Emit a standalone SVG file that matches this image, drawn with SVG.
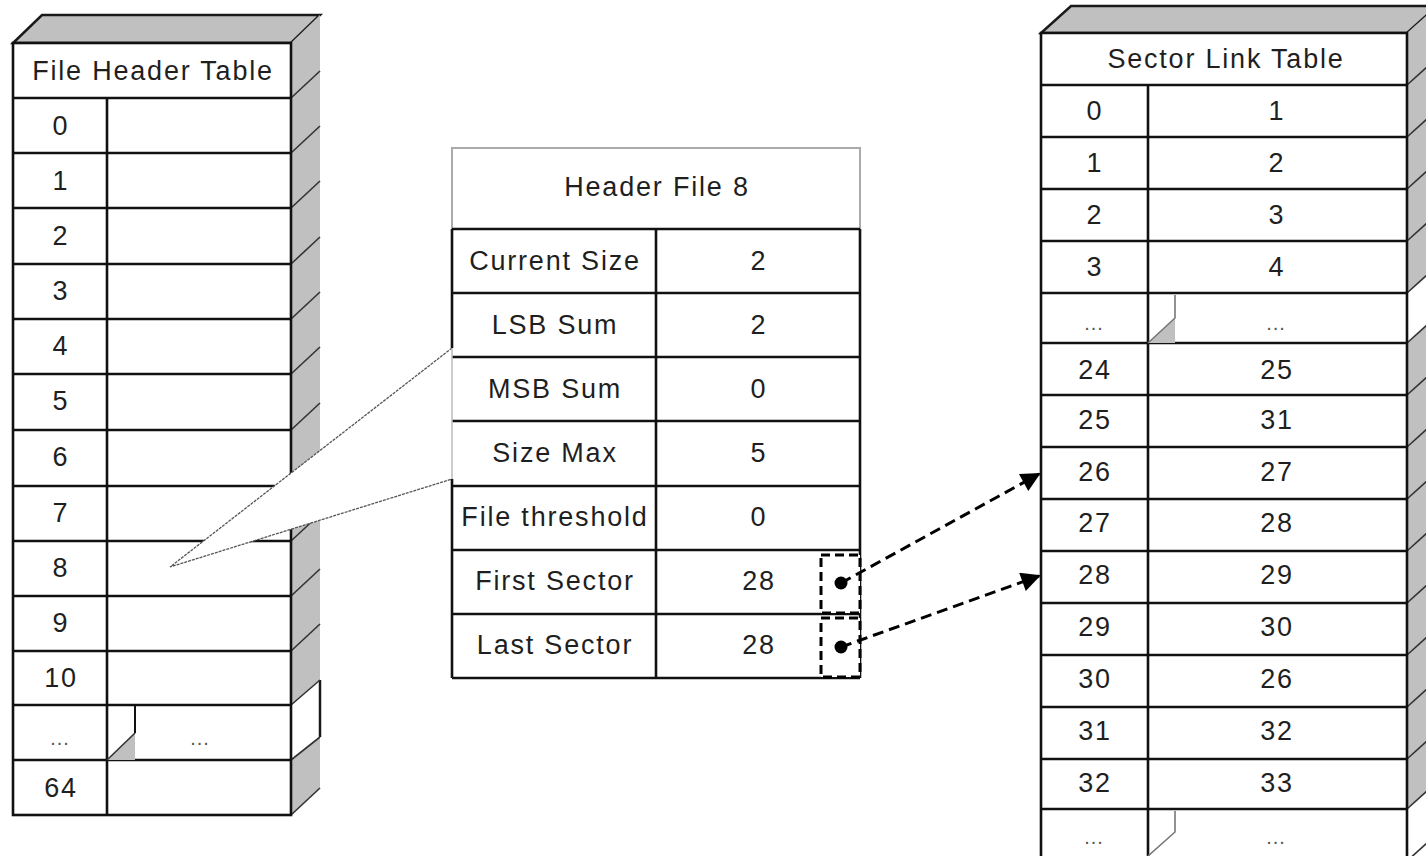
<svg xmlns="http://www.w3.org/2000/svg" width="1426" height="856" viewBox="0 0 1426 856">
  <defs>
    <marker id="arrowhead" viewBox="0 0 10 10" refX="9" refY="5" markerWidth="8" markerHeight="6.5" markerUnits="strokeWidth" orient="auto">
      <path d="M0,0 L10,5 L0,10 z" fill="#000"/>
    </marker>
    <style>
      .face { fill: #c0c0c0; stroke: none; }
      .edge { stroke: #1a1a1a; stroke-width: 2.5; fill: none; }
      .grid { stroke: #111; stroke-width: 2.6; fill: none; }
      .diag { stroke: #333; stroke-width: 1.6; fill: none; }
      .cell { fill: #fff; }
      .txt { font-family: "Liberation Sans", Arial, sans-serif; font-size: 27px; letter-spacing: 1.8px; fill: #1f1f1f; text-anchor: middle; dominant-baseline: central; }
      .dots { font-family: "Liberation Sans", Arial, sans-serif; font-size: 20px; letter-spacing: 1px; fill: #555; text-anchor: middle; }
      .brk { stroke: #777; stroke-width: 1.6; fill: none; }
      .link { stroke: #000; stroke-width: 3; stroke-dasharray: 11 6; fill: none; }
      .ptr { stroke: #000; stroke-width: 3; stroke-dasharray: 9 5; fill: none; }
    </style>
  </defs>
  <rect width="1426" height="856" fill="#fff"/>

  <!-- File Header Table (3D block on the left) -->
  <g id="file-header-table">
    <polygon class="face" points="13,43 291,43 320,15 42,15"/>
    <polygon class="edge" points="13,43 291,43 320,15 42,15"/>
    <polygon class="face" points="291,43 320,15 320,788 291,815"/>
    <!-- break in side face -->
    <polygon fill="#fff" points="291,705 320,680 320,737 291,760"/>
    <line class="edge" x1="320" y1="680" x2="320" y2="737"/>
    <line class="diag" x1="320" y1="737" x2="291" y2="760"/>
    <g class="diag">
      <line x1="291" y1="98" x2="320" y2="71"/>
      <line x1="291" y1="153" x2="320" y2="126"/>
      <line x1="291" y1="208" x2="320" y2="181"/>
      <line x1="291" y1="264" x2="320" y2="237"/>
      <line x1="291" y1="319" x2="320" y2="292"/>
      <line x1="291" y1="374" x2="320" y2="347"/>
      <line x1="291" y1="430" x2="320" y2="403"/>
      <line x1="291" y1="486" x2="320" y2="459"/>
      <line x1="291" y1="541" x2="320" y2="514"/>
      <line x1="291" y1="596" x2="320" y2="569"/>
      <line x1="291" y1="651" x2="320" y2="624"/>
      <line x1="291" y1="705" x2="320" y2="680"/>
      <line x1="291" y1="815" x2="320" y2="788"/>
    </g>
    <rect class="cell" x="13" y="43" width="278" height="772"/>
    <g class="grid">
      <rect x="13" y="43" width="278" height="772"/>
      <line x1="13" y1="98" x2="291" y2="98"/>
      <line x1="13" y1="153" x2="291" y2="153"/>
      <line x1="13" y1="208" x2="291" y2="208"/>
      <line x1="13" y1="264" x2="291" y2="264"/>
      <line x1="13" y1="319" x2="291" y2="319"/>
      <line x1="13" y1="374" x2="291" y2="374"/>
      <line x1="13" y1="430" x2="291" y2="430"/>
      <line x1="13" y1="486" x2="291" y2="486"/>
      <line x1="13" y1="541" x2="291" y2="541"/>
      <line x1="13" y1="596" x2="291" y2="596"/>
      <line x1="13" y1="651" x2="291" y2="651"/>
      <line x1="13" y1="705" x2="291" y2="705"/>
      <line x1="13" y1="760" x2="291" y2="760"/>
      <line x1="107" y1="98" x2="107" y2="815"/>
    </g>
    <!-- break in column divider -->
    <polygon class="face" points="107,760 135,733 135,760"/>
    <line class="diag" x1="107" y1="760" x2="135" y2="733"/>
    <line class="grid" x1="135" y1="705" x2="135" y2="733" style="stroke-width:2"/>
    <text class="txt" x="153" y="71">File Header Table</text>
    <text class="txt" x="61" y="126">0</text>
    <text class="txt" x="61" y="181">1</text>
    <text class="txt" x="61" y="236">2</text>
    <text class="txt" x="61" y="291">3</text>
    <text class="txt" x="61" y="346">4</text>
    <text class="txt" x="61" y="401">5</text>
    <text class="txt" x="61" y="457">6</text>
    <text class="txt" x="61" y="513">7</text>
    <text class="txt" x="61" y="568">8</text>
    <text class="txt" x="61" y="623">9</text>
    <text class="txt" x="61" y="678">10</text>
    <text class="dots" x="60" y="745">...</text>
    <text class="dots" x="200" y="745">...</text>
    <text class="txt" x="61" y="788">64</text>
  </g>

  <!-- callout from entry 8 to its header record -->
  <g id="callout">
    <polygon fill="#fff" points="170,567 452,348 452,479"/>
    <polyline points="452,348 170,567 452,479" fill="none" stroke="#555" stroke-width="1.3" stroke-dasharray="3 1"/>
  </g>

  <!-- Header File 8 record -->
  <g id="header-file-8">
    <rect class="cell" x="452" y="148" width="408" height="530"/>
    <polyline points="452,229 452,148 860,148 860,229" fill="none" stroke="#aaa" stroke-width="2"/>
    <g class="grid">
      <line x1="452" y1="229" x2="860" y2="229"/>
      <line x1="452" y1="293" x2="860" y2="293"/>
      <line x1="452" y1="357" x2="860" y2="357"/>
      <line x1="452" y1="421" x2="860" y2="421"/>
      <line x1="452" y1="486" x2="860" y2="486"/>
      <line x1="452" y1="550" x2="860" y2="550"/>
      <line x1="452" y1="614" x2="860" y2="614"/>
      <line x1="452" y1="678" x2="860" y2="678"/>
      <line x1="452" y1="229" x2="452" y2="348"/>
      <line x1="452" y1="479" x2="452" y2="678"/>
      <line x1="860" y1="229" x2="860" y2="678"/>
      <line x1="656" y1="229" x2="656" y2="678"/>
    </g>
    <line x1="452" y1="348" x2="452" y2="479" stroke="#bbb" stroke-width="1.5"/>
    <text class="txt" x="657" y="187">Header File 8</text>
    <text class="txt" x="555" y="261">Current Size</text>
    <text class="txt" x="759" y="261">2</text>
    <text class="txt" x="555" y="325">LSB Sum</text>
    <text class="txt" x="759" y="325">2</text>
    <text class="txt" x="555" y="389">MSB Sum</text>
    <text class="txt" x="759" y="389">0</text>
    <text class="txt" x="555" y="453">Size Max</text>
    <text class="txt" x="759" y="453">5</text>
    <text class="txt" x="555" y="517">File threshold</text>
    <text class="txt" x="759" y="517">0</text>
    <text class="txt" x="555" y="581">First Sector</text>
    <text class="txt" x="759" y="581">28</text>
    <text class="txt" x="555" y="645">Last Sector</text>
    <text class="txt" x="759" y="645">28</text>
    <!-- pointer slots -->
    <rect class="cell" x="821" y="555" width="39" height="58"/>
    <rect class="cell" x="821" y="618" width="39" height="59"/>
    <rect class="ptr" x="821" y="555" width="39" height="58"/>
    <rect class="ptr" x="821" y="618" width="39" height="59"/>
    <circle cx="841" cy="583" r="6.5" fill="#000"/>
    <circle cx="841" cy="647" r="6.5" fill="#000"/>
  </g>

  <!-- Sector Link Table (3D block on the right) -->
  <g id="sector-link-table">
    <polygon class="face" points="1041,33 1407,33 1437,6 1071,6"/>
    <polygon class="edge" points="1041,33 1407,33 1437,6 1071,6"/>
    <polygon class="face" points="1407,33 1437,6 1437,856 1407,856"/>
    <polygon fill="#fff" points="1407,293 1437,266 1437,316 1407,343"/>
    <polygon fill="#fff" points="1407,809 1437,782 1437,856 1407,856"/>
    <g class="diag">
      <line x1="1407" y1="85" x2="1437" y2="58"/>
      <line x1="1407" y1="137" x2="1437" y2="110"/>
      <line x1="1407" y1="189" x2="1437" y2="162"/>
      <line x1="1407" y1="241" x2="1437" y2="214"/>
      <line x1="1407" y1="293" x2="1437" y2="266"/>
      <line x1="1407" y1="343" x2="1437" y2="316"/>
      <line x1="1407" y1="395" x2="1437" y2="368"/>
      <line x1="1407" y1="447" x2="1437" y2="420"/>
      <line x1="1407" y1="499" x2="1437" y2="472"/>
      <line x1="1407" y1="551" x2="1437" y2="524"/>
      <line x1="1407" y1="603" x2="1437" y2="576"/>
      <line x1="1407" y1="655" x2="1437" y2="628"/>
      <line x1="1407" y1="707" x2="1437" y2="680"/>
      <line x1="1407" y1="759" x2="1437" y2="732"/>
      <line x1="1407" y1="809" x2="1437" y2="782"/>
      <line x1="1407" y1="861" x2="1437" y2="834"/>
    </g>
    <rect class="cell" x="1041" y="33" width="366" height="830"/>
    <g class="grid">
      <polyline points="1041,863 1041,33 1407,33 1407,863"/>
      <line x1="1041" y1="85" x2="1407" y2="85"/>
      <line x1="1041" y1="137" x2="1407" y2="137"/>
      <line x1="1041" y1="189" x2="1407" y2="189"/>
      <line x1="1041" y1="241" x2="1407" y2="241"/>
      <line x1="1041" y1="293" x2="1407" y2="293"/>
      <line x1="1041" y1="343" x2="1407" y2="343"/>
      <line x1="1041" y1="395" x2="1407" y2="395"/>
      <line x1="1041" y1="447" x2="1407" y2="447"/>
      <line x1="1041" y1="499" x2="1407" y2="499"/>
      <line x1="1041" y1="551" x2="1407" y2="551"/>
      <line x1="1041" y1="603" x2="1407" y2="603"/>
      <line x1="1041" y1="655" x2="1407" y2="655"/>
      <line x1="1041" y1="707" x2="1407" y2="707"/>
      <line x1="1041" y1="759" x2="1407" y2="759"/>
      <line x1="1041" y1="809" x2="1407" y2="809"/>
      <line x1="1148" y1="85" x2="1148" y2="863"/>
    </g>
    <!-- breaks in column divider -->
    <polygon class="face" points="1148,343 1175,318 1175,343"/>
    <polyline class="brk" points="1175,295 1175,318 1148,343"/>
    <polyline class="brk" points="1175,811 1175,832 1148,856"/>
    <text class="txt" x="1226" y="59">Sector Link Table</text>
    <text class="txt" x="1095" y="111">0</text><text class="txt" x="1277" y="111">1</text>
    <text class="txt" x="1095" y="163">1</text><text class="txt" x="1277" y="163">2</text>
    <text class="txt" x="1095" y="215">2</text><text class="txt" x="1277" y="215">3</text>
    <text class="txt" x="1095" y="267">3</text><text class="txt" x="1277" y="267">4</text>
    <text class="dots" x="1094" y="330">...</text><text class="dots" x="1276" y="330">...</text>
    <text class="txt" x="1095" y="370">24</text><text class="txt" x="1277" y="370">25</text>
    <text class="txt" x="1095" y="420">25</text><text class="txt" x="1277" y="420">31</text>
    <text class="txt" x="1095" y="472">26</text><text class="txt" x="1277" y="472">27</text>
    <text class="txt" x="1095" y="523">27</text><text class="txt" x="1277" y="523">28</text>
    <text class="txt" x="1095" y="575">28</text><text class="txt" x="1277" y="575">29</text>
    <text class="txt" x="1095" y="627">29</text><text class="txt" x="1277" y="627">30</text>
    <text class="txt" x="1095" y="679">30</text><text class="txt" x="1277" y="679">26</text>
    <text class="txt" x="1095" y="731">31</text><text class="txt" x="1277" y="731">32</text>
    <text class="txt" x="1095" y="783">32</text><text class="txt" x="1277" y="783">33</text>
    <text class="dots" x="1094" y="844">...</text><text class="dots" x="1276" y="844">...</text>
  </g>

  <!-- sector pointers -->
  <g id="connectors">
    <line class="link" x1="841" y1="583" x2="1039" y2="474" marker-end="url(#arrowhead)"/>
    <line class="link" x1="841" y1="647" x2="1039" y2="576" marker-end="url(#arrowhead)"/>
  </g>
</svg>
